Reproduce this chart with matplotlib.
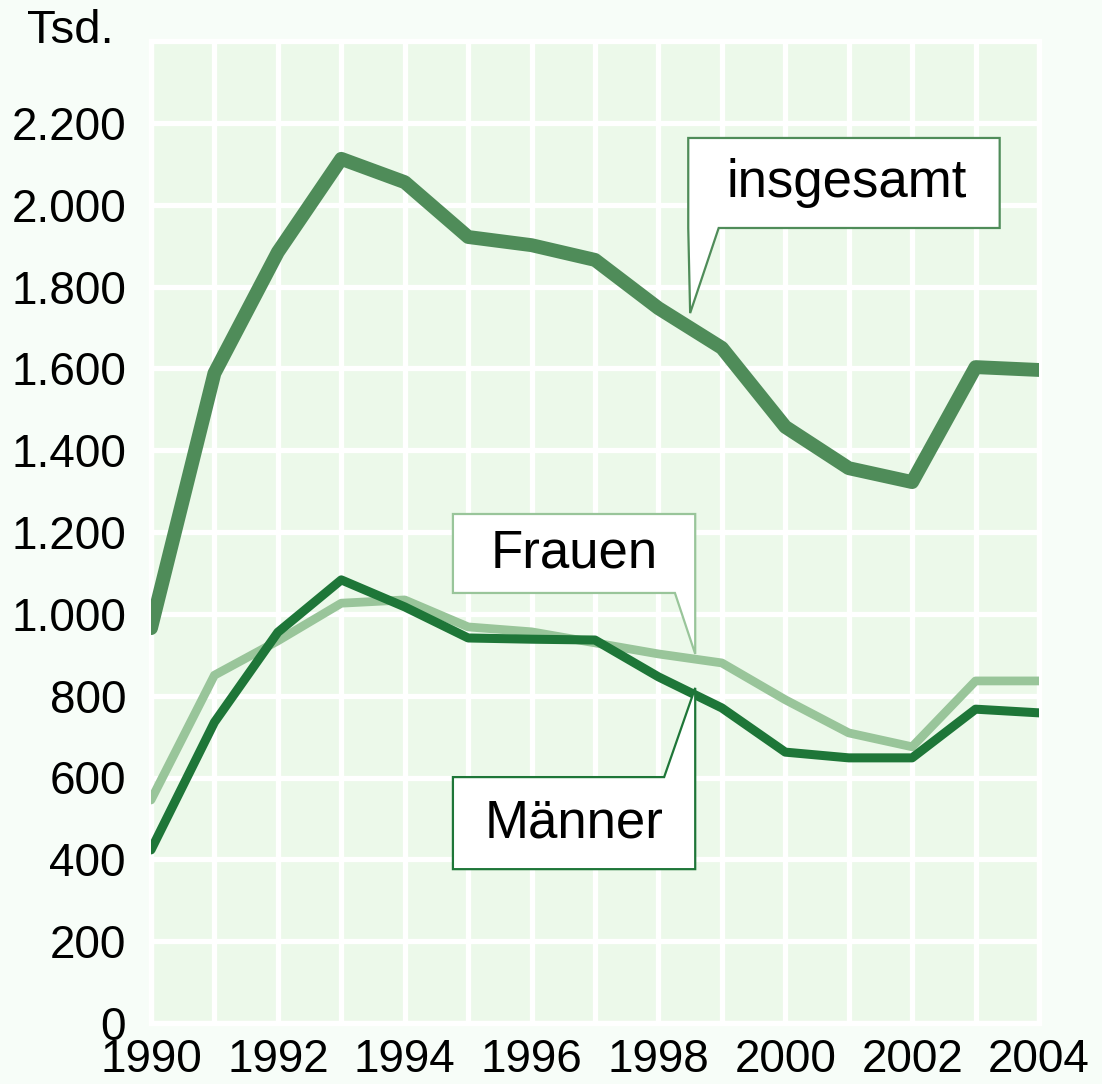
import matplotlib.pyplot as plt
from matplotlib.patches import Polygon
from matplotlib.ticker import FuncFormatter

plt.rcParams['font.family'] = ['Liberation Sans', 'DejaVu Sans']

# Werte in Tsd.
years = list(range(1990, 2005))
insgesamt = [965, 1588, 1884, 2112, 2055, 1921, 1901, 1865, 1747, 1650, 1457, 1356, 1322, 1603, 1596]
frauen = [545, 850, 934, 1026, 1034, 968, 956, 929, 902, 880, 790, 709, 675, 836, 836]
maenner = [423, 735, 955, 1083, 1017, 941, 938, 936, 846, 770, 662, 648, 648, 767, 758]

c_ges = '#4f8c59'
c_fr = '#99c59a'
c_ma = '#1e7638'

fig = plt.figure(figsize=(11.02, 10.84), dpi=100, facecolor='#f7fdf8')
ax = fig.add_axes([151 / 1102, 61 / 1084, 888 / 1102, 982 / 1084])
ax.set_facecolor('#ecf9ea')

ax.plot(years, insgesamt, color=c_ges, lw=10, solid_capstyle='round', solid_joinstyle='round', zorder=3)
ax.plot(years, frauen, color=c_fr, lw=6.3, solid_capstyle='round', solid_joinstyle='round', zorder=3)
ax.plot(years, maenner, color=c_ma, lw=6.5, solid_capstyle='round', solid_joinstyle='round', zorder=4)

ax.set_xlim(1990, 2004)
ax.set_ylim(0, 2400)
ax.set_xticks(range(1990, 2005, 2))
ax.set_xticks(years, minor=True)
ax.set_yticks(range(0, 2300, 200))
ax.yaxis.set_major_formatter(FuncFormatter(lambda v, p: f'{int(v):,}'.replace(',', '.')))
ax.tick_params(axis='both', which='both', length=0, labelsize=33)
ax.tick_params(axis='y', pad=18)
ax.tick_params(axis='x', pad=11)
ax.grid(True, which='both', axis='x', color='white', lw=3.8, zorder=1)
ax.grid(True, which='major', axis='y', color='white', lw=3.8, zorder=1)
ax.set_axisbelow(True)
for s in ax.spines.values():
    s.set_color('white')
    s.set_linewidth(3.8)

fig.text(70 / 1102, 1 - 31 / 1084, 'Tsd.', fontsize=34, ha='center', va='center')

# Beschriftungen mit Sprechblasen (Datenkoordinaten)
callouts = [
    ('insgesamt', c_ges, [(1998.47, 2163), (2003.38, 2163), (2003.38, 1943), (1998.95, 1943),
                          (1998.50, 1735), (1998.47, 1943)]),
    ('Frauen', c_fr, [(1994.76, 1244), (1998.58, 1244), (1998.58, 902), (1998.26, 1051),
                      (1994.76, 1051)]),
    ('Männer', c_ma, [(1994.76, 601), (1998.09, 601), (1998.58, 819), (1998.58, 376),
                      (1994.76, 376)]),
]
for label, col, pts in callouts:
    ax.add_patch(Polygon(pts, closed=True, facecolor='white', edgecolor=col, lw=1.6,
                         joinstyle='miter', zorder=5, clip_on=False))

ax.text((1998.47 + 2003.38) / 2 + 0.05, (2163 + 1943) / 2, 'insgesamt', fontsize=38,
        ha='center', va='center', zorder=6)
ax.text((1994.76 + 1998.58) / 2, (1244 + 1051) / 2, 'Frauen', fontsize=38,
        ha='center', va='center', zorder=6)
ax.text((1994.76 + 1998.58) / 2, (601 + 376) / 2, 'Männer', fontsize=38,
        ha='center', va='center', zorder=6)

fig.savefig('out.png', dpi=100, facecolor=fig.get_facecolor())
